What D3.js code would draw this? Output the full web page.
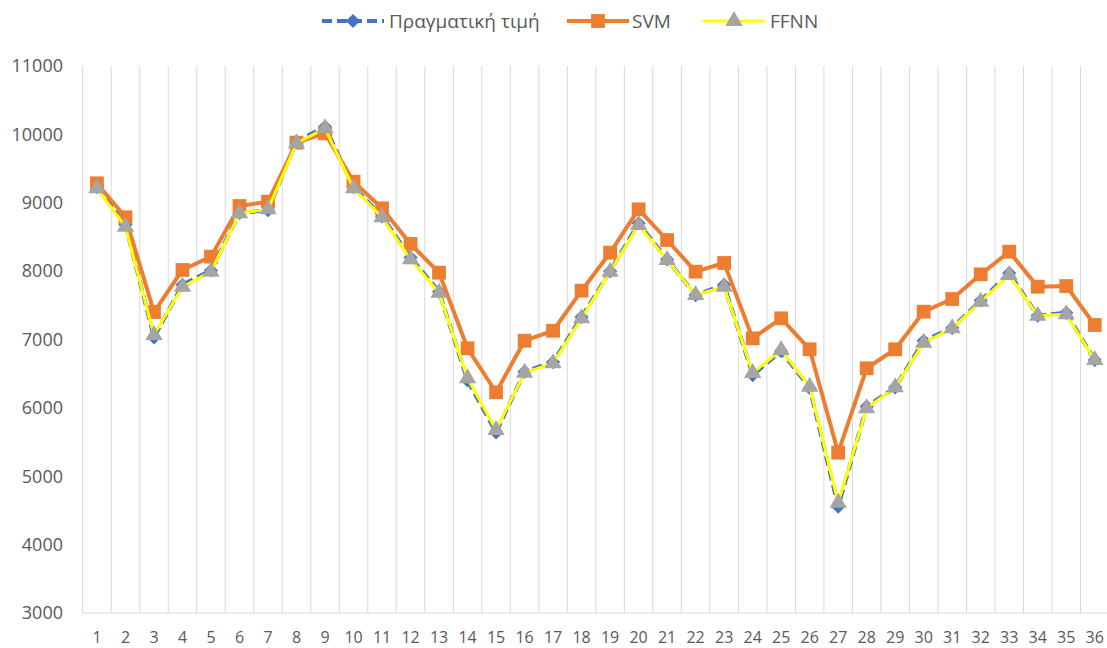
<!DOCTYPE html>
<html>
<head>
<meta charset="utf-8">
<script src="https://cdn.jsdelivr.net/npm/d3@7"></script>
<style>
  body { margin: 0; background: #fff; }
  text { font-family: "Open Sans", sans-serif; fill: #595959; }
</style>
</head>
<body>
<svg width="1107" height="648"></svg>
<script>
// months 1..36
var categories = d3.range(1, 37).map(String);

var actual = [9230, 8680, 7030, 7800, 8010, 8850, 8890, 9900, 10110, 9230,
              8800, 8200, 7700, 6400, 5640, 6530, 6670, 7330, 8000, 8700,
              8170, 7650, 7800, 6480, 6830, 6290, 4555, 6020, 6300, 6980,
              7170, 7570, 7970, 7350, 7390, 6700];
var svm = [9284, 8787, 7402, 8017, 8212, 8952, 9015, 9879, 10015, 9308,
           8919, 8397, 7977, 6871, 6228, 6982, 7128, 7714, 8270, 8904,
           8455, 7992, 8119, 7017, 7310, 6857, 5345, 6579, 6857, 7407,
           7592, 7953, 8284, 7772, 7782, 7212];
var ffnn = [9211, 8650, 7066, 7772, 7992, 8845, 8904, 9870, 10088, 9211,
            8787, 8173, 7685, 6432, 5676, 6515, 6652, 7310, 7992, 8675,
            8163, 7651, 7772, 6510, 6846, 6310, 4613, 5994, 6300, 6953,
            7164, 7553, 7943, 7348, 7368, 6700];
var yTicks = [3000, 4000, 5000, 6000, 7000, 8000, 9000, 10000, 11000];

var svg = d3.select("svg");

var x = d3.scaleBand().domain(categories).range([82.7, 1109]);
var y = d3.scaleLinear().domain([3000, 11000]).range([613, 66]);
var cx = function(i) { return x(categories[i]) + x.bandwidth() / 2; };

// vertical gridlines at band edges
var edges = categories.map(function(c) { return x(c); }).concat([x.range()[1]]);
svg.append("g").selectAll("line")
    .data(edges)
    .enter().append("line")
    .attr("x1", function(d) { return d; }).attr("x2", function(d) { return d; })
    .attr("y1", y(11000)).attr("y2", y(3000))
    .attr("stroke", "#d9d9d9").attr("stroke-width", 1);

// baseline
svg.append("line")
    .attr("x1", x.range()[0]).attr("x2", x.range()[1])
    .attr("y1", y(3000)).attr("y2", y(3000))
    .attr("stroke", "#d9d9d9").attr("stroke-width", 1);

// y labels
svg.append("g").selectAll("text")
    .data(yTicks)
    .enter().append("text")
    .attr("x", 63).attr("y", function(d) { return y(d); })
    .attr("dy", "0.35em")
    .attr("text-anchor", "end")
    .style("font-size", "18px")
    .text(function(d) { return d; });

// x labels
svg.append("g").selectAll("text")
    .data(categories)
    .enter().append("text")
    .attr("x", function(d, i) { return cx(i); }).attr("y", 637)
    .attr("dy", "0.35em")
    .attr("text-anchor", "middle")
    .style("font-size", "16px")
    .text(function(d) { return d; });

// excel-style diamond = square turned 45deg
var series = [
    { name: "Πραγματική τιμή", values: actual, color: "#4472c4", width: 4, dash: "10,5",
      symbol: d3.symbolSquare, size: 100, rot: 45, fill: "#4472c4" },
    { name: "SVM", values: svm, color: "#ed7d31", width: 4, dash: null,
      symbol: d3.symbolSquare, size: 190, rot: 0, fill: "#ed7d31" },
    { name: "FFNN", values: ffnn, color: "#ffff00", width: 3, dash: null,
      symbol: d3.symbolTriangle, size: 130, rot: 0, fill: "#a5a5a5" }
];

var line = d3.line()
    .x(function(d, i) { return cx(i); })
    .y(function(d) { return y(d); });

series.forEach(function(s) {
    var g = svg.append("g");
    g.append("path")
        .attr("d", line(s.values))
        .attr("fill", "none")
        .attr("stroke", s.color)
        .attr("stroke-width", s.width)
        .attr("stroke-dasharray", s.dash)
        .attr("stroke-linejoin", "round");
    g.selectAll("path.m")
        .data(s.values)
        .enter().append("path")
        .attr("class", "m")
        .attr("transform", function(d, i) { return "translate(" + cx(i) + "," + y(d) + ") rotate(" + s.rot + ")"; })
        .attr("d", d3.symbol().type(s.symbol).size(s.size))
        .attr("fill", s.fill);
});

// legend
var legendPos = [{ x: 322, tx: 389 }, { x: 567, tx: 632 }, { x: 703, tx: 770 }];
series.forEach(function(s, i) {
    var lg = svg.append("g").attr("transform", "translate(" + legendPos[i].x + ",21)");
    lg.append("line")
        .attr("x1", 0).attr("x2", 62)
        .attr("stroke", s.color)
        .attr("stroke-width", s.width)
        .attr("stroke-dasharray", s.dash);
    lg.append("path")
        .attr("transform", "translate(31,0) rotate(" + s.rot + ")")
        .attr("d", d3.symbol().type(s.symbol).size(s.size))
        .attr("fill", s.fill);
    svg.append("text")
        .attr("x", legendPos[i].tx).attr("y", 21)
        .attr("dy", "0.35em")
        .style("font-size", "19px")
        .text(s.name);
});
</script>
</body>
</html>
